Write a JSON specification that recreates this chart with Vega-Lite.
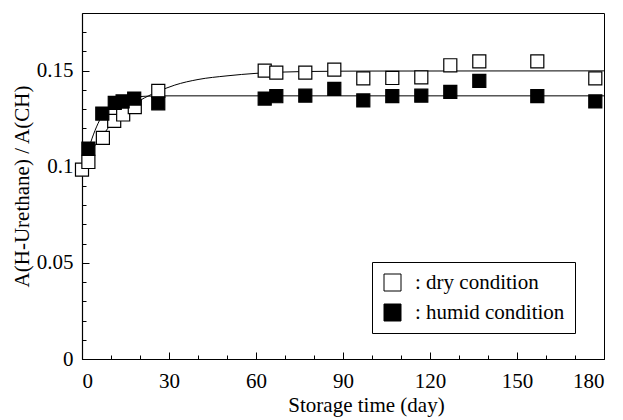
{
  "$schema": "https://vega.github.io/schema/vega-lite/v6.json",
  "width": 522,
  "height": 346,
  "autosize": {"type": "none"},
  "padding": {"left": 82, "top": 13, "right": 19, "bottom": 61},
  "background": "white",
  "config": {
    "font": "'Liberation Serif', serif",
    "view": {"stroke": "black", "strokeWidth": 1},
    "axis": {"labelFont": "'Liberation Serif', serif", "titleFont": "'Liberation Serif', serif", "labelColor": "black", "titleColor": "black", "domainColor": "black", "tickColor": "black", "grid": false, "titleFontWeight": "normal"},
    "legend": {"labelFont": "'Liberation Serif', serif"}
  },
  "datasets": {
    "points": [
      {"day": 0, "ratio": 0.0985, "condition": "dry"},
      {"day": 2.2, "ratio": 0.1025, "condition": "dry"},
      {"day": 7.2, "ratio": 0.115, "condition": "dry"},
      {"day": 11.1, "ratio": 0.1239, "condition": "dry"},
      {"day": 14.2, "ratio": 0.1272, "condition": "dry"},
      {"day": 18.2, "ratio": 0.131, "condition": "dry"},
      {"day": 26.3, "ratio": 0.1395, "condition": "dry"},
      {"day": 63, "ratio": 0.1500, "condition": "dry"},
      {"day": 67, "ratio": 0.1490, "condition": "dry"},
      {"day": 77, "ratio": 0.1490, "condition": "dry"},
      {"day": 87, "ratio": 0.1505, "condition": "dry"},
      {"day": 97, "ratio": 0.1460, "condition": "dry"},
      {"day": 107, "ratio": 0.1462, "condition": "dry"},
      {"day": 117, "ratio": 0.1465, "condition": "dry"},
      {"day": 127, "ratio": 0.1528, "condition": "dry"},
      {"day": 137, "ratio": 0.1548, "condition": "dry"},
      {"day": 157, "ratio": 0.1548, "condition": "dry"},
      {"day": 177, "ratio": 0.1460, "condition": "dry"},
      {"day": 2.2, "ratio": 0.1095, "condition": "humid"},
      {"day": 7, "ratio": 0.1277, "condition": "humid"},
      {"day": 11.3, "ratio": 0.1332, "condition": "humid"},
      {"day": 14, "ratio": 0.1340, "condition": "humid"},
      {"day": 18, "ratio": 0.1355, "condition": "humid"},
      {"day": 26.3, "ratio": 0.1330, "condition": "humid"},
      {"day": 63, "ratio": 0.1355, "condition": "humid"},
      {"day": 67, "ratio": 0.1367, "condition": "humid"},
      {"day": 77, "ratio": 0.1370, "condition": "humid"},
      {"day": 87, "ratio": 0.1405, "condition": "humid"},
      {"day": 97, "ratio": 0.1345, "condition": "humid"},
      {"day": 107, "ratio": 0.1368, "condition": "humid"},
      {"day": 117, "ratio": 0.1370, "condition": "humid"},
      {"day": 127, "ratio": 0.1390, "condition": "humid"},
      {"day": 137, "ratio": 0.1447, "condition": "humid"},
      {"day": 157, "ratio": 0.1368, "condition": "humid"},
      {"day": 177, "ratio": 0.1340, "condition": "humid"}
    ],
    "curves": [
      {"day": 0, "ratio": 0.100, "condition": "dry"},
      {"day": 3, "ratio": 0.108, "condition": "dry"},
      {"day": 6, "ratio": 0.114, "condition": "dry"},
      {"day": 10, "ratio": 0.122, "condition": "dry"},
      {"day": 15, "ratio": 0.129, "condition": "dry"},
      {"day": 20, "ratio": 0.1345, "condition": "dry"},
      {"day": 26, "ratio": 0.139, "condition": "dry"},
      {"day": 32, "ratio": 0.1425, "condition": "dry"},
      {"day": 40, "ratio": 0.1454, "condition": "dry"},
      {"day": 50, "ratio": 0.1473, "condition": "dry"},
      {"day": 60, "ratio": 0.1486, "condition": "dry"},
      {"day": 70, "ratio": 0.1493, "condition": "dry"},
      {"day": 80, "ratio": 0.1496, "condition": "dry"},
      {"day": 100, "ratio": 0.1498, "condition": "dry"},
      {"day": 180, "ratio": 0.1499, "condition": "dry"},
      {"day": 2, "ratio": 0.108, "condition": "humid"},
      {"day": 4, "ratio": 0.117, "condition": "humid"},
      {"day": 6, "ratio": 0.124, "condition": "humid"},
      {"day": 8, "ratio": 0.129, "condition": "humid"},
      {"day": 10, "ratio": 0.132, "condition": "humid"},
      {"day": 13, "ratio": 0.1345, "condition": "humid"},
      {"day": 17, "ratio": 0.136, "condition": "humid"},
      {"day": 22, "ratio": 0.1367, "condition": "humid"},
      {"day": 30, "ratio": 0.1369, "condition": "humid"},
      {"day": 180, "ratio": 0.1369, "condition": "humid"}
    ]
  },
  "resolve": {"axis": {"x": "independent", "y": "independent"}},
  "layer": [
    {
      "data": {"name": "curves"},
      "mark": {"type": "line", "color": "black", "strokeWidth": 1, "interpolate": "monotone", "clip": true},
      "encoding": {
        "x": {"field": "day", "type": "quantitative", "scale": {"domain": [0, 180], "nice": false},
              "axis": {"orient": "bottom", "values": [10, 20, 40, 50, 70, 80, 100, 110, 130, 140, 160, 170], "labels": false, "tickSize": -4, "domain": false, "title": null}},
        "y": {"field": "ratio", "type": "quantitative", "scale": {"domain": [0, 0.18], "nice": false},
              "axis": {"orient": "left", "values": [0.01, 0.02, 0.03, 0.04, 0.06, 0.07, 0.08, 0.09, 0.11, 0.12, 0.13, 0.14, 0.16, 0.17], "labels": false, "tickSize": -4, "domain": false, "title": null}},
        "detail": {"field": "condition"}
      }
    },
    {
      "data": {"name": "points"},
      "mark": {"type": "point", "shape": "square", "filled": true, "size": 170, "stroke": "black", "strokeWidth": 1.2, "opacity": 1},
      "encoding": {
        "x": {"field": "day", "type": "quantitative",
              "axis": {"orient": "bottom", "values": [0, 30, 60, 90, 120, 150, 180], "tickSize": -7, "labelPadding": 18, "labelFontSize": 21, "title": "Storage time (day)", "titleFontSize": 21, "titlePadding": 3, "titleX": 284, "domainWidth": 1.2}},
        "y": {"field": "ratio", "type": "quantitative",
              "axis": {"orient": "left", "values": [0, 0.05, 0.1, 0.15], "format": "~g", "tickSize": -7, "labelPadding": 16, "labelFontSize": 21, "title": "A(H-Urethane) / A(CH)", "titleFontSize": 21, "titlePadding": 4, "domainWidth": 1.2}},
        "fill": {"field": "condition", "type": "nominal",
                 "scale": {"domain": ["dry", "humid"], "range": ["white", "black"]},
                 "legend": {"orient": "none", "legendX": 290, "legendY": 249, "title": null, "symbolType": "square", "symbolSize": 289, "symbolStrokeColor": "black", "symbolStrokeWidth": 1, "labelFontSize": 21, "labelColor": "black", "labelExpr": "': ' + datum.label + ' condition'", "strokeColor": "black", "padding": 10, "rowPadding": 8, "labelOffset": 12, "symbolOpacity": 1}}
      }
    }
  ]
}
